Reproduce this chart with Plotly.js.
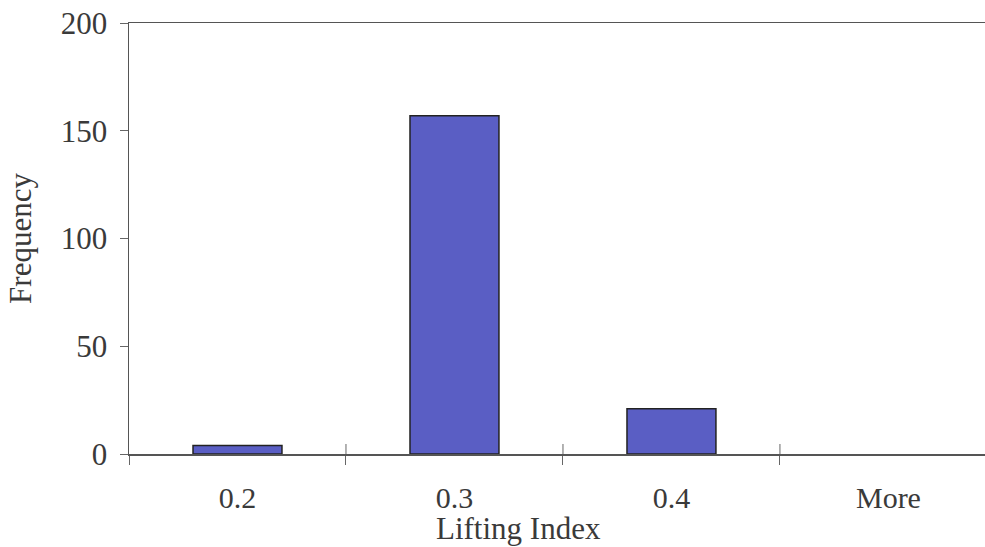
<!DOCTYPE html>
<html>
<head>
<meta charset="utf-8">
<script src="https://cdn.plot.ly/plotly-3.0.1.min.js"></script>
<style>html,body{margin:0;padding:0;background:#fff;}#chart{width:985px;height:547px;}</style>
</head>
<body>
<div id="chart"></div>
<script>
var categories = ["0.2", "0.3", "0.4", "More"];
var frequency = [4, 157, 21, 0];
var yTickValues = [0, 50, 100, 150, 200];
var xTitle = "Lifting Index";
var yTitle = "Frequency";

var font = {family: "Liberation Serif, Times New Roman, serif", size: 31, color: "#3a3a3a"};
var tickFontX = {family: "Liberation Serif, Times New Roman, serif", size: 30, color: "#3a3a3a"};

var trace = {
  type: "bar",
  x: categories,
  y: frequency,
  width: 0.41,
  marker: {color: "#5a5ec4", line: {color: "#222222", width: [1.5, 1.5, 1.5, 0]}},
  hoverinfo: "skip"
};

// upper halves of the crossing category-boundary ticks
var crossTicks = categories.slice(1).map(function (c, i) {
  return {
    type: "line", xref: "x", yref: "y",
    ysizemode: "pixel", yanchor: 0,
    x0: i + 0.5, x1: i + 0.5, y0: 0, y1: 10,
    line: {color: "#666666", width: 1}
  };
});

var layout = {
  width: 985, height: 547,
  margin: {l: 129, r: 0, t: 23, b: 93},
  paper_bgcolor: "#ffffff",
  plot_bgcolor: "#ffffff",
  font: font,
  showlegend: false,
  shapes: crossTicks,
  xaxis: {
    type: "category",
    categoryorder: "array",
    categoryarray: categories,
    range: [-0.5, 3.445],
    showline: true, linecolor: "#555555", linewidth: 1.5,
    mirror: true,
    ticks: "outside", tickson: "boundaries", ticklen: 9, tickcolor: "#666666", tickwidth: 1,
    ticklabelstandoff: 16,
    showgrid: false, zeroline: false,
    tickfont: tickFontX,
    title: {text: ""}
  },
  yaxis: {
    range: [0, 200],
    tickvals: yTickValues,
    showline: true, linecolor: "#555555", linewidth: 1.5,
    ticks: "outside", ticklen: 8, tickcolor: "#666666", tickwidth: 1,
    ticklabelstandoff: 6,
    showgrid: false, zeroline: false,
    tickfont: font,
    title: {text: yTitle, font: font, standoff: 20}
  },
  annotations: [{
    text: xTitle, xref: "paper", yref: "paper",
    x: (518 - 129) / (985 - 129), y: 0, yshift: -74,
    xanchor: "center", yanchor: "middle",
    showarrow: false, font: font
  }]
};

Plotly.newPlot("chart", [trace], layout, {displayModeBar: false, staticPlot: true});
</script>
</body>
</html>
